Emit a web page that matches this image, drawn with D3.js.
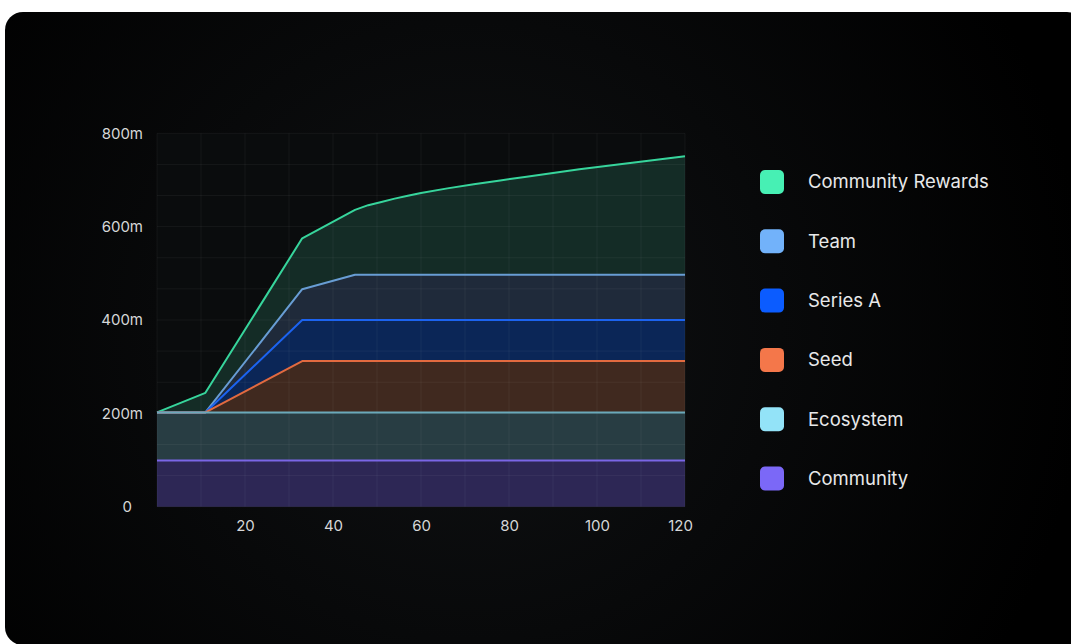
<!DOCTYPE html>
<html>
<head>
<meta charset="utf-8">
<script src="https://cdn.jsdelivr.net/npm/d3@7"></script>
<style>
  html, body { margin: 0; padding: 0; background: #ffffff; }
  svg { display: block; font-family: Inter, "Noto Sans", sans-serif; }
</style>
</head>
<body>
<svg id="chart" width="1071" height="644"></svg>
<script>
// Month index of each sample (token unlock schedule)
const months = [0, 11, 33, 45, 48, 51, 54, 57, 60, 66, 72, 78, 84, 90, 96, 102, 108, 114, 120];

// Unlocked tokens per allocation, in millions (stacked bottom to top)
const community        = [99, 99, 99, 99, 99, 99, 99, 99, 99, 99, 99, 99, 99, 99, 99, 99, 99, 99, 99];
const ecosystem        = [103, 103, 103, 103, 103, 103, 103, 103, 103, 103, 103, 103, 103, 103, 103, 103, 103, 103, 103];
const seed             = [0, 0, 110, 110, 110, 110, 110, 110, 110, 110, 110, 110, 110, 110, 110, 110, 110, 110, 110];
const seriesA          = [0, 0, 88, 88, 88, 88, 88, 88, 88, 88, 88, 88, 88, 88, 88, 88, 88, 88, 88];
const team             = [0, 0, 66, 97, 97, 97, 97, 97, 97, 97, 97, 97, 97, 97, 97, 97, 97, 97, 97];
const communityRewards = [0, 42, 109, 139, 149, 156, 163, 169, 175, 185, 194, 202, 210, 218, 226, 233, 240, 247, 254];

const seriesNames = ["Community", "Ecosystem", "Seed", "Series A", "Team", "Community Rewards"];
const seriesValues = [community, ecosystem, seed, seriesA, team, communityRewards];

const xTicks = [20, 40, 60, 80, 100, 120];
const yTicks = [0, 200, 400, 600, 800];
const yTickLabels = ["0", "200m", "400m", "600m", "800m"];

const styles = {
  "Community":         { line: "#7a66e6", fill: "#2d2755", swatch: "#7b68f7" },
  "Ecosystem":         { line: "#6aa9ba", fill: "#283d43", swatch: "#93e3f8" },
  "Seed":              { line: "#e26a40", fill: "#40291f", swatch: "#f4774a" },
  "Series A":          { line: "#1c63f0", fill: "#0b2657", swatch: "#0b5cff" },
  "Team":              { line: "#689dd4", fill: "#1f2a3a", swatch: "#72b2fa" },
  "Community Rewards": { line: "#37d59c", fill: "#142c26", swatch: "#47f0b4" }
};

const rows = months.map((m, i) => {
  const r = { month: m };
  seriesNames.forEach((n, k) => { r[n] = seriesValues[k][i]; });
  return r;
});

const svg = d3.select("#chart");
const defs = svg.append("defs");
const glow = defs.append("radialGradient")
  .attr("id", "cardGlow")
  .attr("gradientUnits", "userSpaceOnUse")
  .attr("cx", 470).attr("cy", 330).attr("r", 620);
glow.append("stop").attr("offset", "0%").attr("stop-color", "#101214");
glow.append("stop").attr("offset", "50%").attr("stop-color", "#08090a");
glow.append("stop").attr("offset", "100%").attr("stop-color", "#000000");

// Card
svg.append("rect")
  .attr("x", 5).attr("y", 12)
  .attr("width", 1080).attr("height", 633)
  .attr("rx", 18).attr("ry", 18)
  .attr("fill", "url(#cardGlow)");

const plot = { left: 157, right: 685, top: 133.3, bottom: 506.7 };

const x = d3.scaleLinear().domain([0, 120]).range([plot.left, plot.right]);
const y = d3.scaleLinear().domain([0, 800]).range([plot.bottom, plot.top]);

const stacked = d3.stack().keys(seriesNames)(rows);

const area = d3.area()
  .x(d => x(d.data.month))
  .y0(d => y(d[0]))
  .y1(d => y(d[1]));

const topLine = d3.line()
  .x(d => x(d.data.month))
  .y(d => y(d[1]));

const g = svg.append("g");

// Plot backdrop
g.append("rect")
  .attr("x", plot.left).attr("y", plot.top)
  .attr("width", plot.right - plot.left).attr("height", plot.bottom - plot.top)
  .attr("fill", "#0a0c0d");

// Stacked areas
g.selectAll("path.area")
  .data(stacked)
  .join("path")
  .attr("class", "area")
  .attr("d", area)
  .attr("fill", d => styles[d.key].fill);

// Grid: 12 x 12 divisions
const gridX = d3.range(0, 121, 10);
const gridY = d3.range(0, 13).map(i => i * 800 / 12);
const grid = g.append("g").attr("stroke", "#ffffff").attr("stroke-opacity", 0.05).attr("stroke-width", 1);
grid.selectAll("line.gx").data(gridX).join("line")
  .attr("class", "gx")
  .attr("x1", d => x(d)).attr("x2", d => x(d))
  .attr("y1", plot.top).attr("y2", plot.bottom);
grid.selectAll("line.gy").data(gridY).join("line")
  .attr("class", "gy")
  .attr("x1", plot.left).attr("x2", plot.right)
  .attr("y1", d => y(d)).attr("y2", d => y(d));

// Top edge of each layer, upper layers first so lower edges sit on top
g.selectAll("path.edge")
  .data(stacked.slice().reverse())
  .join("path")
  .attr("class", "edge")
  .attr("d", topLine)
  .attr("fill", "none")
  .attr("stroke", d => styles[d.key].line)
  .attr("stroke-width", 2)
  .attr("stroke-linejoin", "round");

// Axes
const axisColor = "#d6d7d8";
const yAxis = d3.axisLeft(y).tickValues(yTicks).tickSize(0).tickPadding(14)
  .tickFormat((d, i) => yTickLabels[i]);
const yg = svg.append("g").attr("transform", `translate(${plot.left},0)`).call(yAxis);
yg.select(".domain").remove();
yg.selectAll("text")
  .attr("fill", axisColor)
  .attr("font-size", 15)
  .attr("font-family", "Inter, sans-serif")
  .attr("dx", d => d === 0 ? -11 : 0);

const xAxis = d3.axisBottom(x).tickValues(xTicks).tickSize(0).tickPadding(14);
const xg = svg.append("g").attr("transform", `translate(0,${plot.bottom})`).call(xAxis);
xg.select(".domain").remove();
xg.selectAll("text")
  .attr("fill", axisColor)
  .attr("font-size", 15)
  .attr("font-family", "Inter, sans-serif")
  .attr("dx", d => d === 120 ? -5 : 0);

// Legend, top layer first
const legendNames = seriesNames.slice().reverse();
const legend = svg.append("g").attr("transform", "translate(760,170)");
const item = legend.selectAll("g.item").data(legendNames).join("g")
  .attr("class", "item")
  .attr("transform", (d, i) => `translate(0,${i * 59.3})`);
item.append("rect")
  .attr("width", 24).attr("height", 24)
  .attr("rx", 5).attr("ry", 5)
  .attr("fill", d => styles[d].swatch);
item.append("text")
  .attr("x", 48).attr("y", 12)
  .attr("dy", "0.35em")
  .attr("fill", "#e8e9ea")
  .attr("font-size", 18.5)
  .attr("font-family", "Inter, sans-serif")
  .text(d => d);
</script>
</body>
</html>
